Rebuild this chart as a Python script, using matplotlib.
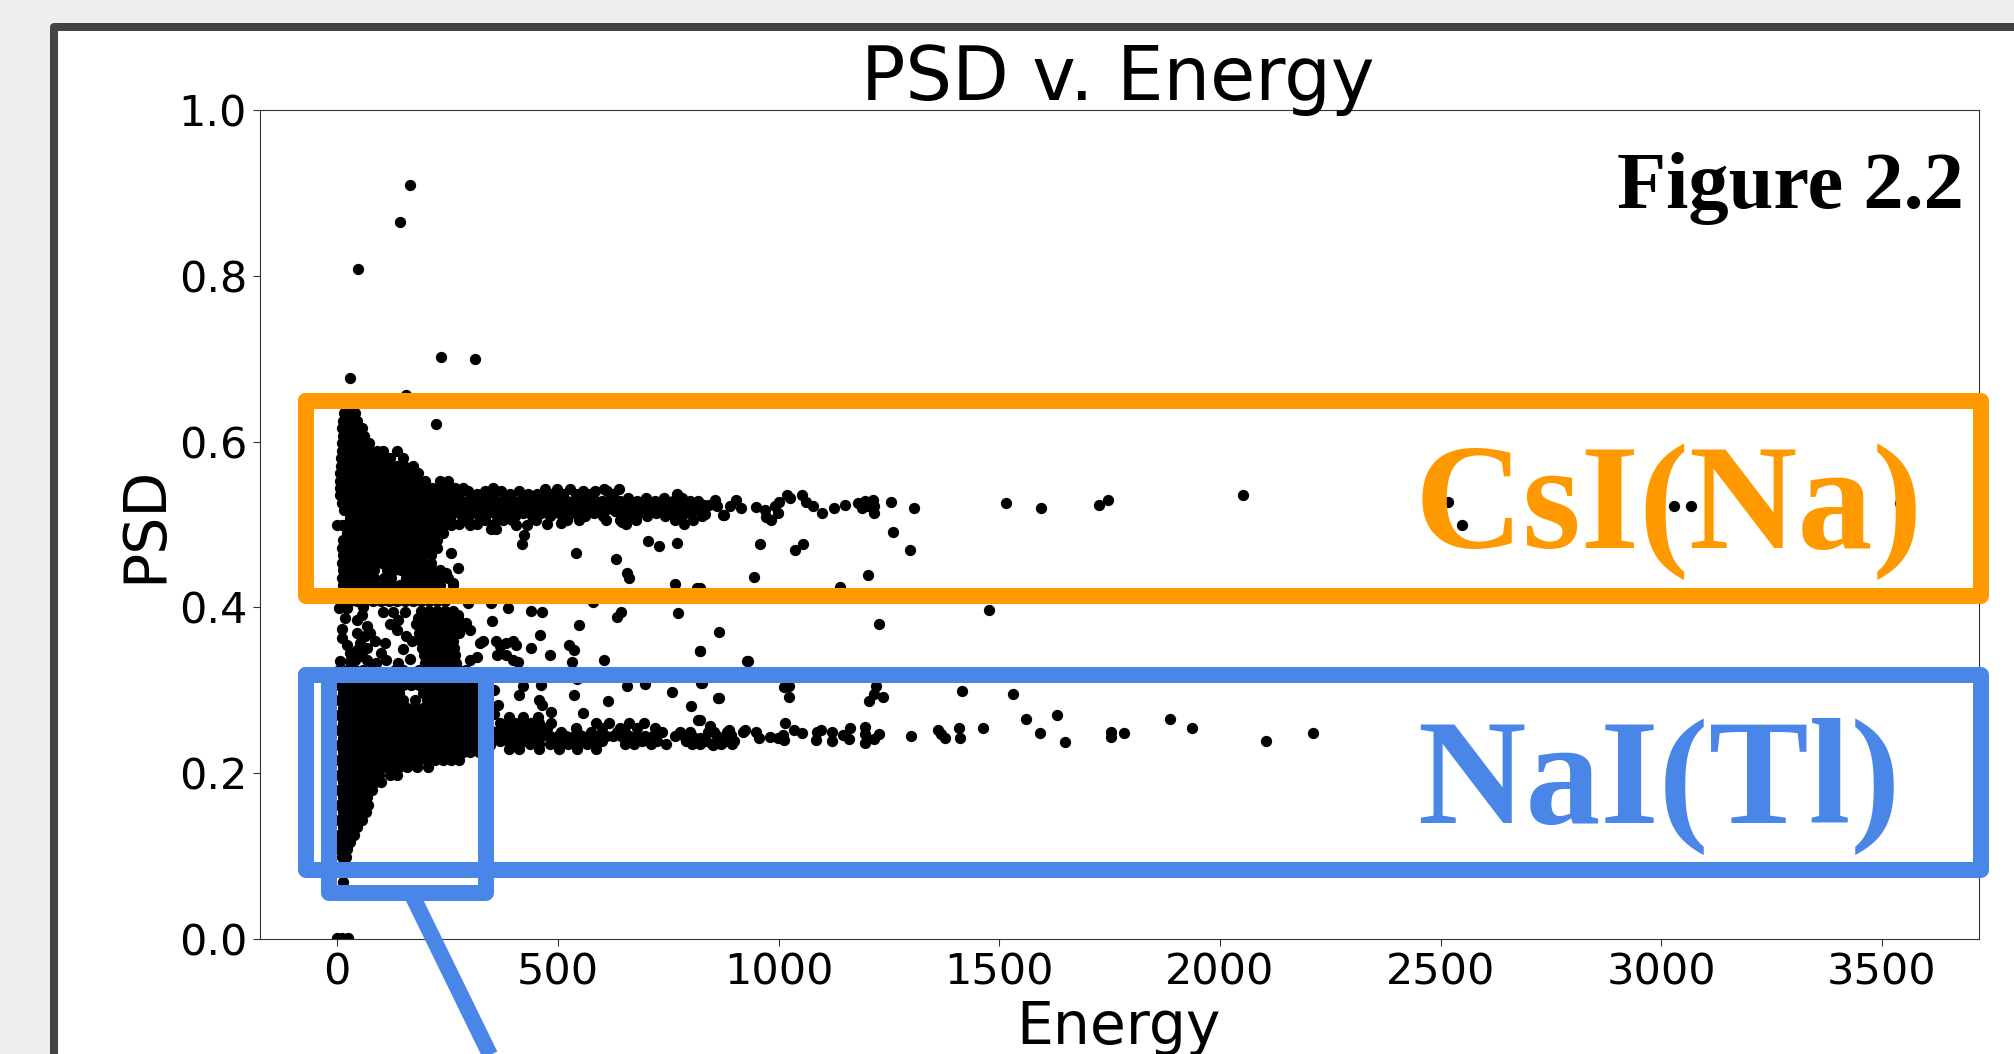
import matplotlib
matplotlib.use("Agg")
from matplotlib import pyplot as plt

# values: (psd, [energies]) for the dense bands
csi_top = [
    (0.634, [16, 28, 40]),
    (0.625, [14, 30, 46]),
    (0.616, [12, 28, 44, 56]),
    (0.607, [14, 30, 46, 60]),
    (0.598, [10, 26, 42, 58, 72]),
    (0.589, [10, 26, 42, 58, 74, 90, 104, 135]),
    (0.580, [8, 24, 40, 56, 72, 88, 104, 120, 150]),
    (0.571, [8, 24, 40, 56, 72, 88, 104, 120, 136, 152, 172]),
    (0.562, [6, 22, 38, 54, 70, 86, 102, 118, 134, 150, 166, 184]),
    (0.553, [6, 22, 38, 54, 70, 86, 102, 118, 134, 150, 166, 182, 198, 232, 252]),
    (0.544, [6, 22, 38, 54, 70, 86, 102, 118, 134, 150, 166, 182, 198, 214, 230, 248, 266, 284, 352]),
    (0.535, [6, 22, 38, 54, 70, 86, 102, 118, 134, 150, 166, 182, 198, 214, 230]),
    (0.526, [10, 26, 42, 58, 74, 90, 106, 122, 138, 154, 170, 186, 202, 218]),
    (0.517, [16, 32, 48, 64, 80, 96, 112, 128, 144, 160, 176, 192, 208, 224]),
    (0.508, [28, 44, 60, 76, 92, 108, 124, 140, 156, 172, 188, 204, 220]),
    (0.499, [0, 10, 20, 30, 40, 50, 66, 82, 98, 114, 130, 146, 162, 178, 194, 210, 226, 242, 258, 300]),
]
csi_tail = [
    (0.543, [470, 497, 528, 604, 638]),
    (0.540, [296, 336, 372, 412, 558, 585, 612]),
    (0.537, [256, 276, 316, 354, 392, 432, 452, 482, 512, 542, 572, 625, 770]),
    (0.532, [240, 300, 340, 380, 420, 460, 500, 540, 580, 620, 660, 700, 740, 782]),
    (0.528, [260, 280, 320, 360, 400, 440, 480, 520, 560, 600, 640, 680, 720, 760, 800, 818]),
    (0.525, [244, 290, 336, 372, 412, 448, 494, 532, 572, 612, 652, 692, 732, 772]),
    (0.523, [232, 272, 312, 352, 392, 432, 472, 512, 552, 592, 634, 674, 714, 754, 794, 832]),
    (0.519, [252, 292, 332, 372, 412, 452, 492, 532, 572, 612, 654, 694, 734, 774, 814]),
    (0.516, [236, 276, 318, 360, 402, 436, 476, 516, 556, 596, 630, 668, 708, 748, 788]),
    (0.514, [222, 262, 302, 342, 382, 422, 462, 502, 542, 582, 642, 682, 722, 762, 802]),
    (0.510, [242, 282, 322, 362, 402, 442, 482, 522, 562, 602, 662, 702, 742, 782, 826]),
    (0.505, [216, 256, 296, 336, 376, 396, 450, 520, 548, 610, 640, 676, 766, 806]),
    (0.501, [236, 276, 316, 356, 475, 655, 786]),
]
csi_low = [
    (0.490, [22, 40, 58, 76, 94, 112, 130, 148, 166, 184, 202, 220, 240]),
    (0.481, [14, 32, 50, 68, 86, 104, 122, 140, 158, 176, 194, 212, 226]),
    (0.472, [12, 30, 48, 66, 84, 102, 120, 138, 156, 174, 192, 210, 226]),
    (0.463, [14, 32, 50, 68, 86, 104, 122, 140, 158, 176, 194, 212]),
    (0.454, [12, 30, 48, 66, 84, 102, 120, 138, 156, 174, 192, 212]),
    (0.445, [14, 32, 50, 68, 84, 112, 128, 144, 160, 178, 196, 214, 234]),
    (0.436, [12, 30, 48, 66, 84, 106, 122, 156, 174, 192, 210, 228, 250]),
    (0.427, [14, 32, 50, 68, 86, 104, 124, 142, 160, 178, 196, 214, 232, 262]),
    (0.418, [12, 30, 48, 66, 84, 102, 120, 138, 156, 174, 192, 210, 228]),
    (0.408, [10, 28, 46, 64, 82, 100, 118, 136, 154, 172, 190, 208, 226, 244]),
]
nai_core = [
    (0.396, [190, 208, 226, 244, 262]),
    (0.387, [184, 202, 220, 238, 256, 274]),
    (0.378, [190, 208, 226, 244, 262, 282]),
    (0.369, [186, 204, 222, 240, 258, 276]),
    (0.360, [190, 208, 226, 244, 262]),
    (0.351, [192, 210, 228, 246, 264]),
    (0.342, [196, 214, 232, 250, 268]),
    (0.333, [198, 216, 234, 252, 270]),
    (0.324, [5, 23, 41, 59, 77, 131, 149, 185, 203, 221, 239, 257, 275, 293]),
    (0.315, [14, 32, 50, 68, 86, 104, 122, 140, 194, 212, 230, 248, 266, 284, 302, 320]),
    (0.306, [5, 23, 41, 59, 77, 95, 113, 131, 149, 167, 185, 203, 221, 239, 257, 275, 293, 311, 329]),
    (0.297, [14, 32, 50, 68, 86, 104, 122, 140, 194, 212, 230, 248, 266, 284, 302, 320]),
    (0.288, [5, 23, 41, 59, 77, 95, 113, 131, 149, 176, 203, 221, 239, 257, 275, 293, 311, 329]),
    (0.279, [14, 32, 50, 68, 86, 104, 122, 140, 158, 176, 194, 212, 230, 248, 266, 284, 302, 320, 338]),
    (0.270, [5, 23, 41, 59, 77, 95, 113, 131, 149, 167, 185, 203, 221, 239, 257, 275, 293, 311, 329, 347]),
    (0.261, [14, 32, 50, 68, 86, 104, 122, 140, 158, 176, 194, 212, 230, 248, 266, 284, 302, 320, 338]),
    (0.252, [5, 23, 41, 59, 77, 95, 113, 131, 149, 167, 185, 203, 221, 239, 257, 275, 293, 311, 329, 347]),
    (0.243, [14, 32, 50, 68, 86, 104, 122, 140, 158, 176, 194, 212, 230, 248, 266, 284, 302, 320, 338]),
    (0.234, [5, 23, 41, 59, 77, 95, 113, 131, 149, 167, 185, 203, 221, 239, 257, 275, 293, 311, 329, 347]),
    (0.225, [14, 32, 50, 68, 86, 104, 122, 140, 158, 176, 194, 212, 230, 248, 266, 284, 302, 322]),
    (0.216, [5, 23, 41, 59, 77, 95, 113, 131, 149, 167, 185, 203, 221, 239, 257, 275]),
    (0.207, [14, 32, 50, 68, 86, 104, 122, 140, 158, 180, 205]),
    (0.198, [5, 23, 41, 59, 77, 95, 120, 135]),
    (0.189, [14, 32, 50, 68, 86, 100]),
    (0.180, [5, 23, 41, 59, 80]),
    (0.171, [14, 32, 50, 68]),
    (0.162, [5, 23, 41, 59, 70]),
    (0.153, [14, 32, 50, 66]),
    (0.144, [5, 23, 41, 56]),
    (0.135, [14, 32, 46]),
    (0.126, [5, 23, 38]),
    (0.117, [12, 30]),
    (0.108, [5, 22]),
    (0.099, [12, 20]),
    (0.069, [14]),
]
nai_tail = [
    (0.268, [390, 420, 454]),
    (0.260, [368, 386, 404, 422, 440, 458, 484, 586, 616, 661, 695]),
    (0.255, [376, 412, 448, 476, 540, 600, 640, 680, 720]),
    (0.250, [360, 396, 432, 468, 507, 544, 575, 634, 652, 736, 777, 800, 841, 884, 920]),
    (0.245, [356, 374, 392, 410, 428, 446, 464, 482, 500, 518, 536, 554, 572, 590, 608, 626, 644, 662, 680, 698, 716, 765, 785, 805, 860, 889]),
    (0.239, [368, 386, 420, 452, 490, 530, 560, 600, 665, 690, 725, 790, 835, 880]),
    (0.235, [392, 413, 438, 458, 482, 503, 524, 544, 565, 586, 653, 672, 710, 744, 804, 823, 849, 869, 895]),
    (0.229, [390, 413, 458, 503, 544, 586]),
]

# (energy, psd) of the points that stand apart
far_csi = [
    (823, .521), (833, .513), (843, .524), (856, .529), (861, .522), (876, .512), (891, .522),
    (904, .529), (914, .520), (949, .521), (969, .518), (971, .509), (982, .505), (999, .514),
    (992, .522), (1002, .527), (1020, .536), (1025, .532), (1053, .535), (1063, .527), (1078, .522),
    (1099, .514), (1125, .520), (1151, .524), (1181, .526), (1189, .520), (1197, .528), (1202, .522),
    (1214, .529), (1217, .522), (1217, .514), (1255, .527), (1306, .520), (1516, .526), (1594, .520),
    (1726, .524), (1747, .530), (2053, .536), (2516, .527), (2548, .499), (3029, .522), (3067, .522),
    (3541, .526),
]
far_nai = [
    (823, .264), (845, .257), (823, .242), (853, .250), (851, .234), (863, .242), (873, .238),
    (888, .252), (899, .239), (893, .246), (924, .252), (949, .250), (955, .242), (981, .244),
    (999, .242), (1015, .260), (1010, .246), (1012, .240), (1035, .252), (1054, .248), (1084, .240),
    (1088, .250), (1096, .252), (1121, .250), (1121, .239), (1146, .246), (1161, .255), (1159, .241),
    (1197, .256), (1197, .247), (1197, .237), (1217, .241), (1228, .247), (1300, .245), (1361, .252),
    (1369, .247), (1378, .243), (1409, .254), (1411, .243), (1463, .254), (1561, .265), (1592, .249),
    (1632, .270), (1649, .238), (1754, .250), (1754, .244), (1783, .248), (1887, .265), (1936, .254),
    (2104, .239), (2212, .249),
]
between = [
    (959, .477), (1037, .469), (1055, .477), (1259, .491), (1297, .469), (823, .423), (945, .437),
    (1140, .425), (1202, .439), (1478, .397), (1228, .380), (866, .370), (823, .347), (931, .335),
    (826, .309), (1012, .304), (1023, .305), (1023, .292), (863, .291), (1220, .305), (1217, .296),
    (1236, .292), (1204, .287), (1416, .299), (1531, .295), (704, .480), (730, .474), (771, .478),
    (540, .466), (632, .458), (656, .441), (662, .435), (765, .428), (815, .423), (419, .476),
    (423, .487), (429, .500), (405, .499), (257, .466), (274, .448), (247, .441), (262, .429),
    (507, .502), (646, .503), (875, .511), (349, .494), (360, .495), (296, .405), (386, .399),
    (439, .396), (464, .394), (642, .395), (633, .388), (773, .393), (349, .405), (580, .406),
    (103, .394), (274, .391), (292, .381), (300, .373), (350, .383), (460, .367), (548, .379),
    (323, .357), (330, .360), (360, .359), (368, .353), (383, .357), (398, .359),
    (405, .355), (439, .351), (526, .355), (537, .349), (821, .347), (362, .343), (483, .343),
    (383, .343), (398, .337), (409, .334), (300, .337), (317, .340), (533, .334), (605, .337),
    (928, .335), (544, .314), (656, .305), (698, .307), (824, .309), (462, .306), (759, .298),
    (864, .291), (420, .305), (413, .294), (537, .294), (614, .287), (458, .288), (465, .282),
    (484, .274), (557, .273), (801, .281), (818, .264), (356, .300), (364, .282), (356, .272),
    (5, .399), (22, .399), (18, .387), (10, .374), (10, .363), (22, .355), (29, .345), (7, .335),
    (29, .335), (44, .385), (59, .401), (56, .391), (67, .377), (44, .369), (63, .365), (52, .357),
    (44, .349), (67, .351), (56, .341), (41, .337), (67, .337), (74, .369), (127, .395), (138, .385),
    (153, .395), (135, .373), (157, .365), (108, .357), (86, .359), (88, .333), (111, .336),
    (138, .333), (165, .338), (120, .380), (100, .345), (150, .350), (170, .360), (178, .380),
]
outliers = [
    (165, .909), (142, .865), (47, .808), (236, .702), (313, .700), (30, .677), (156, .656),
    (225, .621), (0, .001), (10, .001), (25, .001),
]

energy_ticks = [0, 500, 1000, 1500, 2000, 2500, 3000, 3500]
psd_ticks = [0.0, 0.2, 0.4, 0.6, 0.8, 1.0]

ORANGE = "#ff9900"
BLUE = "#4a86e8"
W, H = 2014, 1054

energy = []
psd = []
for rows in [csi_top, csi_tail, csi_low, nai_core, nai_tail]:
    for p, es in rows:
        for e in es:
            energy.append(e)
            psd.append(p)
for pts in [far_csi, far_nai, between, outliers]:
    for e, p in pts:
        energy.append(e)
        psd.append(p)

fig = plt.figure(figsize=(W / 100, H / 100), dpi=100, facecolor="#eeeeee")


def pixelAxes(z):
    a = fig.add_axes([0, 0, 1, 1], zorder=z)
    a.set_xlim(0, W)
    a.set_ylim(H, 0)
    a.axis("off")
    return a


def box(a, x0, y0, x1, y1, col, lw=16):
    # coordinates in pixels, down from the top left
    a.plot([x0, x1, x1, x0, x0], [y0, y0, y1, y1, y0], color=col, lw=lw * 0.72,
           solid_joinstyle="round", solid_capstyle="round", clip_on=True)


back = pixelAxes(0)
back.fill([54, 2030, 2030, 54], [27, 27, 1070, 1070], facecolor="white",
          edgecolor="#434343", lw=8 * 0.72, joinstyle="round")

ax = fig.add_axes([259.5 / W, (H - 939) / H, (1979 - 259.5) / W, 829 / H], zorder=1)
ax.patch.set_alpha(0)
ax.scatter(energy, psd, s=66, c="black", linewidths=0, clip_on=True)
ax.set_xlim(-176, 3720)
ax.set_ylim(0, 1)
ax.set_xticks(energy_ticks)
ax.set_yticks(psd_ticks)
ax.tick_params(labelsize=31, length=5, width=0.8, color="#333333", pad=4)
for s in ax.spines.values():
    s.set_linewidth(0.8)
    s.set_color("#333333")

top = pixelAxes(2)
top.text(1118, 100, "PSD v. Energy", fontsize=53, ha="center", va="baseline")
top.text(1118, 1044, "Energy", fontsize=42, ha="center", va="baseline")
top.text(145, 524, "PSD", fontsize=42, ha="center", va="center", rotation=90)

box(top, 306, 401, 1981, 596, ORANGE)
box(top, 306, 675, 1981, 870, BLUE)
box(top, 329, 675, 486, 893, BLUE)
top.plot([411, 495], [893, 1065], color=BLUE, lw=16 * 0.72, solid_capstyle="butt")

top.text(1964, 208, "Figure 2.2", fontsize=58, family="Liberation Serif", weight="bold",
         ha="right", va="baseline")
top.text(1415, 548, "CsI(Na)", fontsize=108, family="Liberation Serif", weight="bold",
         color=ORANGE, ha="left", va="baseline")
top.text(1417, 823, "NaI(Tl)", fontsize=108, family="Liberation Serif", weight="bold",
         color=BLUE, ha="left", va="baseline")

fig.savefig("out.png", dpi=100, facecolor=fig.get_facecolor())
